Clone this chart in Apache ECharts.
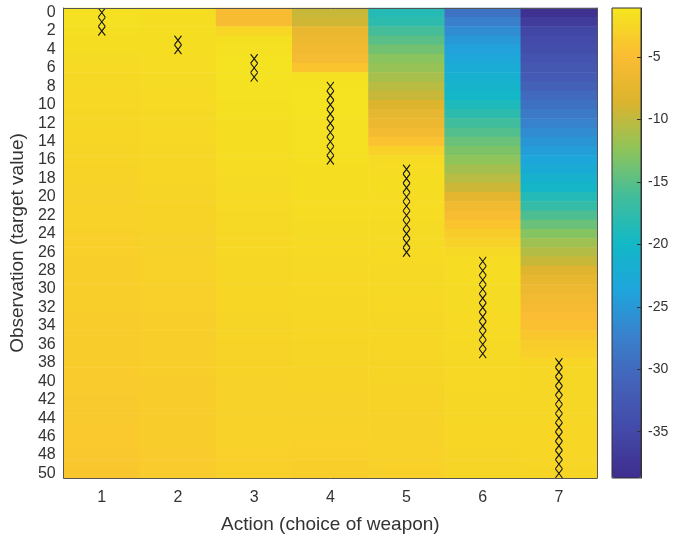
<!DOCTYPE html>
<html>
<head>
<meta charset="utf-8">
<script src="https://cdn.jsdelivr.net/npm/echarts@6/dist/echarts.min.js"></script>
<style>
  html, body { margin: 0; padding: 0; background: #fff; }
  #chart { width: 673px; height: 539px; }
</style>
</head>
<body>
<div id="chart"></div>
<script>
// actions on x, observations (target value) on y
var actions = ['1', '2', '3', '4', '5', '6', '7'];
var observations = [];
for (var i = 0; i <= 50; i++) observations.push(String(i));

// expected value per observation (rows 0..50) for each action
var action1 = [-1.6,-1.6,-1.7,-1.8,-1.9,-2.1,-2.2,-2.3,-2.3,-2.4,-2.4,-2.5,-2.5,-2.6,-2.6,-2.7,-2.7,-2.8,-2.8,-2.9,-2.9,-3.0,-3.0,-3.0,-3.1,-3.1,-3.1,-3.2,-3.2,-3.2,-3.3,-3.3,-3.3,-3.4,-3.4,-3.4,-3.5,-3.5,-3.5,-3.6,-3.6,-3.6,-3.7,-3.7,-3.7,-3.8,-3.8,-3.8,-3.9,-3.9,-4.0];
var action2 = [-1.8,-1.8,-1.8,-1.9,-1.9,-2.0,-2.0,-2.1,-2.1,-2.2,-2.2,-2.3,-2.3,-2.4,-2.4,-2.5,-2.5,-2.6,-2.6,-2.7,-2.7,-2.8,-2.8,-2.8,-2.9,-2.9,-2.9,-3.0,-3.0,-3.0,-3.1,-3.1,-3.1,-3.2,-3.2,-3.2,-3.3,-3.3,-3.3,-3.3,-3.4,-3.4,-3.4,-3.4,-3.5,-3.5,-3.5,-3.5,-3.6,-3.6,-3.6];
var action3 = [-5.4,-5.2,-2.6,-1.7,-1.6,-1.5,-1.5,-1.5,-1.6,-1.6,-1.7,-1.7,-1.8,-1.8,-1.9,-1.9,-2.0,-2.0,-2.1,-2.1,-2.2,-2.2,-2.3,-2.3,-2.4,-2.4,-2.4,-2.5,-2.5,-2.5,-2.6,-2.6,-2.6,-2.7,-2.7,-2.7,-2.8,-2.8,-2.8,-2.8,-2.9,-2.9,-2.9,-2.9,-3.0,-3.0,-3.0,-3.0,-3.1,-3.1,-3.1];
var action4 = [-9.6,-9.2,-7.0,-6.6,-6.1,-5.6,-4.2,-1.6,-1.5,-1.5,-1.5,-1.5,-1.6,-1.6,-1.6,-1.7,-1.7,-1.8,-1.8,-1.9,-1.9,-2.0,-2.0,-2.1,-2.1,-2.2,-2.2,-2.3,-2.3,-2.4,-2.4,-2.5,-2.5,-2.5,-2.6,-2.6,-2.7,-2.7,-2.7,-2.8,-2.8,-2.8,-2.9,-2.9,-2.9,-3.0,-3.0,-3.1,-3.1,-3.2,-3.2];
var action5 = [-18.5,-17.8,-16.0,-15.0,-13.8,-12.6,-12.0,-11.2,-10.4,-9.6,-8.6,-7.4,-6.8,-5.8,-4.5,-3.0,-2.2,-2.0,-1.9,-1.9,-2.0,-2.0,-2.0,-2.1,-2.1,-2.1,-2.2,-2.2,-2.3,-2.3,-2.3,-2.4,-2.4,-2.5,-2.5,-2.5,-2.6,-2.6,-2.7,-2.7,-2.7,-2.8,-2.8,-2.8,-2.9,-2.9,-2.9,-3.0,-3.0,-3.0,-3.1];
var action6 = [-29.0,-27.6,-26.2,-25.0,-24.0,-23.2,-22.3,-21.4,-20.8,-20.0,-19.0,-17.8,-16.4,-15.3,-14.2,-13.2,-12.4,-11.4,-10.4,-9.4,-7.6,-6.2,-5.2,-4.2,-3.5,-2.9,-2.3,-2.0,-2.0,-2.0,-2.1,-2.1,-2.1,-2.2,-2.2,-2.2,-2.3,-2.3,-2.3,-2.4,-2.4,-2.4,-2.5,-2.5,-2.5,-2.6,-2.6,-2.6,-2.7,-2.7,-2.7];
var action7 = [-38.2,-36.8,-35.4,-34.8,-34.2,-33.4,-32.8,-32.2,-31.2,-30.2,-29.2,-28.2,-27.2,-26.2,-25.3,-24.4,-23.4,-22.4,-21.3,-20.2,-18.6,-17.2,-15.6,-14.2,-12.8,-11.6,-10.6,-9.6,-8.2,-7.2,-6.6,-6.0,-5.5,-5.0,-4.6,-4.0,-3.5,-3.1,-2.6,-2.5,-2.5,-2.5,-2.5,-2.5,-2.5,-2.6,-2.6,-2.6,-2.6,-2.6,-2.7];

// chosen action for each observation (the x marks)
var bestAction = [1,1,1,2,2,3,3,3,4,4,4,4,4,4,4,4,4,5,5,5,5,5,5,5,5,5,5,6,6,6,6,6,6,6,6,6,6,6,7,7,7,7,7,7,7,7,7,7,7,7,7];

var colorbarTicks = [-35, -30, -25, -20, -15, -10, -5];
var valueMin = -38.7, valueMax = -1.1;

// parula-like
var parula = ['#3e2d8e', '#4349a8', '#4461b8', '#3a80cc', '#1ea5dc', '#13b8c6',
              '#42bd9a', '#8fc45a', '#dcb42e', '#fbbd33', '#f4e61e'];

var columns = [action1, action2, action3, action4, action5, action6, action7];
var heat = [];
columns.forEach(function (col, a) {
  col.forEach(function (v, o) { heat.push([a, o, v]); });
});
var marks = bestAction.map(function (a, o) { return [a - 1, o]; });

var axisColor = '#555';
var labelColor = '#333';
var font = 'Liberation Sans';

var chart = echarts.init(document.getElementById('chart'));
chart.setOption({
  animation: false,
  textStyle: { fontFamily: font },
  grid: [
    { left: 63, top: 8, width: 534, height: 470 },
    { left: 612, top: 8, width: 29, height: 470, show: true, borderColor: '#333', borderWidth: 1,
      backgroundColor: 'transparent', z: 10 }
  ],
  xAxis: [
    {
      type: 'category', data: actions, gridIndex: 0, position: 'bottom',
      name: 'Action (choice of weapon)', nameLocation: 'middle', nameGap: 37,
      nameTextStyle: { fontSize: 19, color: labelColor },
      axisLine: { lineStyle: { color: axisColor } },
      axisTick: { inside: true, alignWithLabel: true, length: 5, lineStyle: { color: axisColor } },
      axisLabel: { fontSize: 16, color: labelColor, margin: 12 },
      splitLine: { show: false }, z: 5
    },
    {
      type: 'category', data: actions, gridIndex: 0, position: 'top',
      axisLine: { lineStyle: { color: axisColor } },
      axisTick: { inside: true, alignWithLabel: true, length: 5, lineStyle: { color: axisColor } },
      axisLabel: { show: false }, splitLine: { show: false }, z: 5
    },
    { type: 'value', gridIndex: 1, show: false, axisLine: { onZero: false } }
  ],
  yAxis: [
    {
      type: 'category', data: observations, gridIndex: 0, inverse: true, position: 'left',
      name: 'Observation (target value)', nameLocation: 'middle', nameGap: 36, nameRotate: 90,
      nameTextStyle: { fontSize: 19, color: labelColor },
      axisLine: { lineStyle: { color: axisColor } },
      axisTick: { inside: true, alignWithLabel: true, interval: 1, length: 5, lineStyle: { color: axisColor } },
      axisLabel: { interval: 1, fontSize: 16, color: labelColor, margin: 8 },
      splitLine: { show: false }, z: 5
    },
    {
      type: 'category', data: observations, gridIndex: 0, inverse: true, position: 'right',
      axisLine: { lineStyle: { color: axisColor } },
      axisTick: { inside: true, alignWithLabel: true, interval: 1, length: 5, lineStyle: { color: axisColor } },
      axisLabel: { show: false }, splitLine: { show: false }, z: 5
    },
    {
      type: 'value', gridIndex: 1, min: valueMin, max: valueMax, position: 'right',
      axisLine: { show: true, onZero: false, lineStyle: { color: '#333' } },
      axisTick: { show: true, inside: true, length: 4, customValues: colorbarTicks, lineStyle: { color: '#333' } },
      axisLabel: { fontSize: 14, color: labelColor, margin: 7, customValues: colorbarTicks },
      splitLine: { show: false }, z: 10
    }
  ],
  visualMap: {
    type: 'continuous', min: valueMin, max: valueMax, seriesIndex: 0,
    calculable: false, hoverLink: false, orient: 'vertical',
    left: 612, top: 8, padding: 0, itemWidth: 29, itemHeight: 470,
    inRange: { color: parula }
  },
  series: [
    {
      type: 'heatmap', xAxisIndex: 0, yAxisIndex: 0, data: heat,
      itemStyle: { borderWidth: 0 }, emphasis: { disabled: true }
    },
    {
      type: 'scatter', xAxisIndex: 0, yAxisIndex: 0, data: marks,
      symbol: 'path://M0,0L10,10M10,0L0,10', symbolSize: [7, 9],
      itemStyle: { color: 'none', borderColor: '#111', borderWidth: 1.1, opacity: 1 },
      emphasis: { disabled: true }, z: 3
    }
  ]
});
</script>
</body>
</html>
